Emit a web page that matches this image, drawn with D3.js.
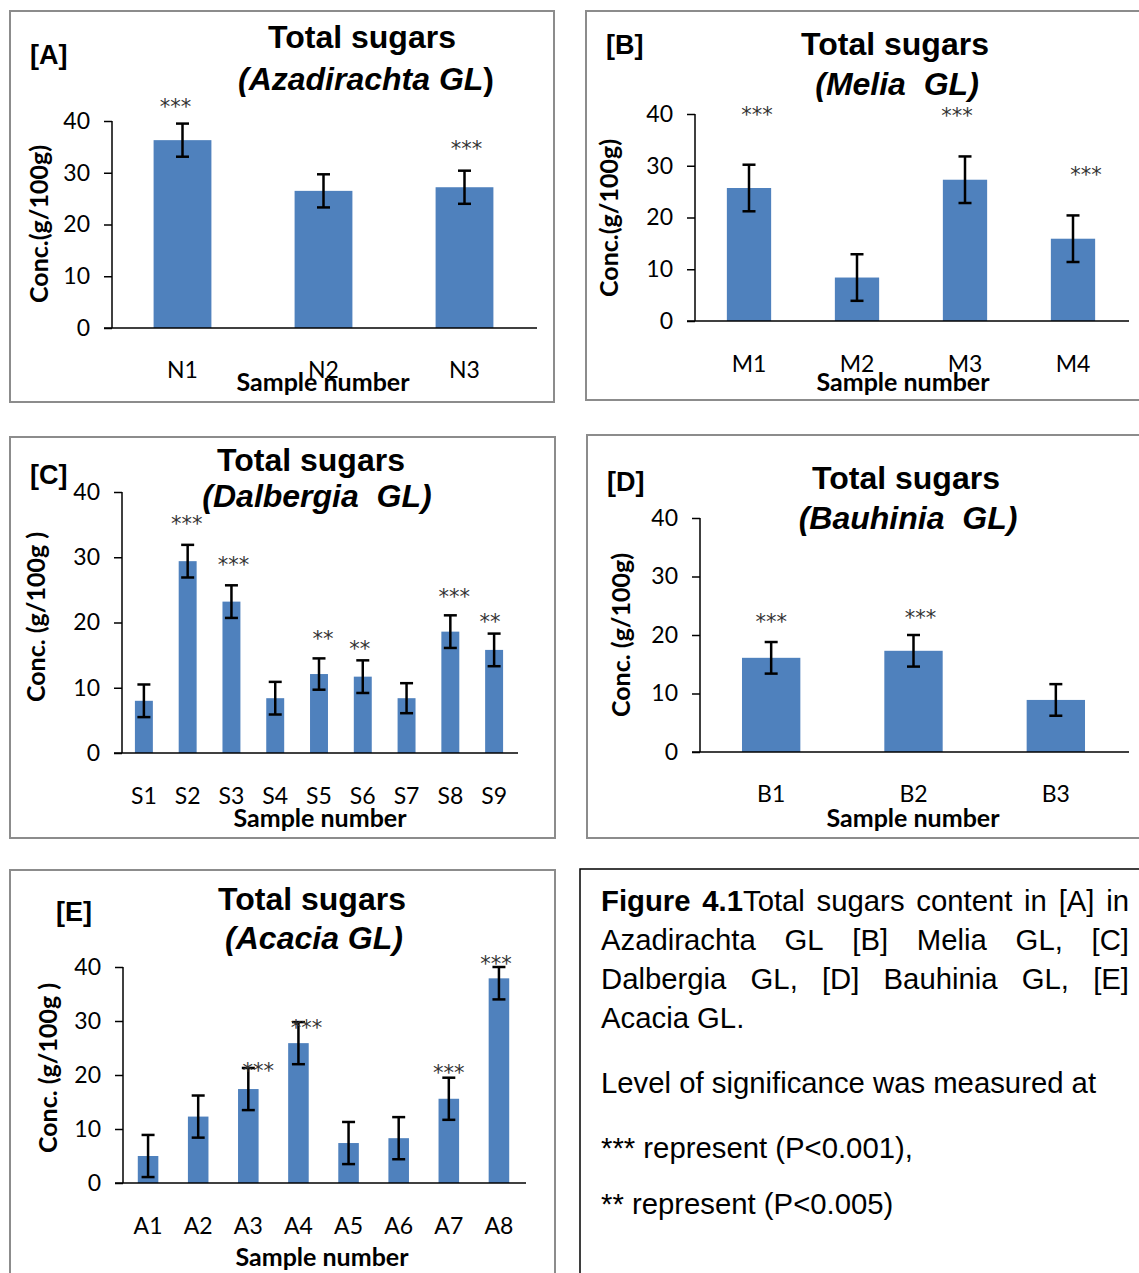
<!DOCTYPE html>
<html>
<head>
<meta charset="utf-8">
<script src="https://cdn.jsdelivr.net/npm/d3@7"></script>
<style>
body { margin: 0; background: #fff; }
svg { display: block; }
text { white-space: pre; }
.tick text { font-family: Lato, "Open Sans", sans-serif; font-size: 23px; fill: #000; }
.axis path, .axis line { stroke: #000; stroke-width: 1.5px; }
.title { font-family: "Liberation Sans", Arial, sans-serif; font-weight: bold; font-size: 32px; }
.tag { font-family: "Liberation Sans", Arial, sans-serif; font-weight: bold; font-size: 27px; }
.alabel { font-family: Lato, sans-serif; font-weight: bold; font-size: 25px; }
.sig { font-family: "DejaVu Sans", sans-serif; font-size: 21px; fill: #333; }
.cap { font-family: "Liberation Sans", Arial, sans-serif; font-size: 29.3px; }
</style>
</head>
<body>
<script>
// Panel A - Azadirachta
const catsA = ['N1', 'N2', 'N3']
const valsA = [36.3, 26.5, 27.2]
const errsA = [3.2, 3.2, 3.2]
const sigA = ['***', '', '***']
const sigAtA = [43.6, null, 35.5]

// Panel B - Melia
const catsB = ['M1', 'M2', 'M3', 'M4']
const valsB = [25.7, 8.4, 27.3, 15.9]
const errsB = [4.5, 4.5, 4.5, 4.5]
const sigB = ['***', '', '***', '***']
const sigAtB = [40.8, null, 40.6, 29.1]

// Panel C - Dalbergia
const catsC = ['S1', 'S2', 'S3', 'S4', 'S5', 'S6', 'S7', 'S8', 'S9']
const valsC = [8.0, 29.4, 23.2, 8.4, 12.1, 11.7, 8.4, 18.6, 15.8]
const errsC = [2.5, 2.5, 2.5, 2.5, 2.4, 2.5, 2.3, 2.5, 2.5]
const sigC = ['', '***', '***', '', '**', '**', '', '***', '**']
const sigAtC = [null, 35.8, 29.6, null, 18.2, 16.7, null, 24.6, 20.9]

// Panel D - Bauhinia
const catsD = ['B1', 'B2', 'B3']
const valsD = [16.1, 17.3, 8.9]
const errsD = [2.7, 2.7, 2.7]
const sigD = ['***', '***', '']
const sigAtD = [23.0, 23.7, null]

// Panel E - Acacia
const catsE = ['A1', 'A2', 'A3', 'A4', 'A5', 'A6', 'A7', 'A8']
const valsE = [5.0, 12.3, 17.4, 25.9, 7.4, 8.3, 15.6, 37.9]
const errsE = [3.9, 3.9, 3.9, 3.9, 3.9, 3.9, 3.9, 3.9]
const sigE = ['', '', '***', '***', '', '', '***', '***']
const sigAtE = [null, null, 21.7, 29.6, null, null, 21.3, 41.5]

const yTicks = [0, 10, 20, 30, 40]

const panels = [
    { cats: catsA, vals: valsA, errs: errsA, sig: sigA, sigAt: sigAtA,
      frame: [10, 11, 544, 391], xr: [112, 535], yr: [328, 121],
      tag: '[A]', tagXY: [30, 64], t1: 'Total sugars', t1XY: [362, 48],
      t2: ['(', 'Azadirachta GL', ')'], t2XY: [366, 90],
      ylab: 'Conc.(g/100g)', ylabXY: [48, 224], xlabXY: [323, 391], catY: 378,
      shift: [-7, 0, 2] },
    { cats: catsB, vals: valsB, errs: errsB, sig: sigB, sigAt: sigAtB,
      frame: [586, 11, 600, 389], xr: [695, 1127], yr: [321, 114],
      tag: '[B]', tagXY: [606, 54], t1: 'Total sugars', t1XY: [895, 55],
      t2: ['(', 'Melia  GL)', ''], t2XY: [897, 95],
      ylab: 'Conc.(g/100g)', ylabXY: [618, 218], xlabXY: [903, 391], catY: 372,
      shift: [8, 0, -8, 13] },
    { cats: catsC, vals: valsC, errs: errsC, sig: sigC, sigAt: sigAtC,
      frame: [10, 437, 545, 401], xr: [122, 516], yr: [753, 492],
      tag: '[C]', tagXY: [30, 484], t1: 'Total sugars', t1XY: [311, 471],
      t2: ['(', 'Dalbergia  GL)', ''], t2XY: [317, 507],
      ylab: 'Conc. (g/100g )', ylabXY: [45, 617], xlabXY: [320, 827], catY: 804,
      shift: [0, -1, 2, 0, 4, -3, 0, 4, -4] },
    { cats: catsD, vals: valsD, errs: errsD, sig: sigD, sigAt: sigAtD,
      frame: [587, 435, 600, 403], xr: [700, 1127], yr: [752, 518],
      tag: '[D]', tagXY: [607, 491], t1: 'Total sugars', t1XY: [906, 489],
      t2: ['(', 'Bauhinia  GL)', ''], t2XY: [908, 529],
      ylab: 'Conc. (g/100g)', ylabXY: [630, 635], xlabXY: [913, 827], catY: 802,
      shift: [0, 7, 0] },
    { cats: catsE, vals: valsE, errs: errsE, sig: sigE, sigAt: sigAtE,
      frame: [10, 870, 545, 440], xr: [123, 524], yr: [1183, 967],
      tag: '[E]', tagXY: [56, 921], t1: 'Total sugars', t1XY: [312, 910],
      t2: ['(', 'Acacia GL)', ''], t2XY: [314, 949],
      ylab: 'Conc. (g/100g )', ylabXY: [57, 1068], xlabXY: [322, 1266], catY: 1234,
      shift: [0, 0, 10, 8, 0, 0, 0, -3] },
]

const svg = d3.select('body').append('svg')
    .attr('width', 1139)
    .attr('height', 1273)

panels.forEach(p => {
    const g = svg.append('g')

    // chart frame
    g.append('rect')
        .attr('x', p.frame[0]).attr('y', p.frame[1])
        .attr('width', p.frame[2]).attr('height', p.frame[3])
        .attr('fill', 'none').attr('stroke', '#8c8c8c').attr('stroke-width', 2)

    const x = d3.scaleBand().domain(p.cats).range(p.xr).paddingInner(0.59).paddingOuter(0.295)
    const y = d3.scaleLinear().domain([0, 40]).range(p.yr)

    // bars
    g.selectAll('.bar').data(p.vals).enter().append('rect')
        .attr('class', 'bar')
        .attr('x', (d, i) => x(p.cats[i]))
        .attr('y', d => y(d))
        .attr('width', x.bandwidth())
        .attr('height', d => y(0) - y(d))
        .attr('fill', '#4f81bd')

    // error bars (clipped at the axis maximum, as in the source)
    const cx = i => x(p.cats[i]) + x.bandwidth() / 2
    const eb = g.append('g').attr('stroke', '#000').attr('stroke-width', 2.5)
    p.vals.forEach((v, i) => {
        const hi = y(Math.min(v + p.errs[i], 40)), lo = y(v - p.errs[i])
        eb.append('line').attr('x1', cx(i)).attr('x2', cx(i)).attr('y1', hi).attr('y2', lo)
        eb.append('line').attr('x1', cx(i) - 6.5).attr('x2', cx(i) + 6.5).attr('y1', hi).attr('y2', hi)
        eb.append('line').attr('x1', cx(i) - 6.5).attr('x2', cx(i) + 6.5).attr('y1', lo).attr('y2', lo)
    })

    // significance stars
    p.sig.forEach((s, i) => {
        if (!s) return
        g.append('text').attr('class', 'sig')
            .attr('text-anchor', 'middle')
            .attr('x', cx(i) + (p.shift[i] || 0))
            .attr('y', y(p.sigAt[i]) + 12)
            .text(s)
    })

    // axes
    g.append('g').attr('class', 'axis')
        .attr('transform', `translate(${p.xr[0]},0)`)
        .call(d3.axisLeft(y).tickValues(yTicks).tickSize(8).tickPadding(14).tickSizeOuter(0))
    g.append('line')
        .attr('x1', p.xr[0] - 8).attr('x2', p.xr[1] + 2)
        .attr('y1', y(0)).attr('y2', y(0))
        .attr('stroke', '#000').attr('stroke-width', 1.5)
    g.selectAll('.axis .domain').attr('d', `M0,${y(0)}V${y(40)}`)

    // category labels
    g.selectAll('.cat').data(p.cats).enter().append('text')
        .attr('class', 'tick')
        .attr('text-anchor', 'middle')
        .attr('x', (d, i) => cx(i))
        .attr('y', p.catY)
        .style('font-family', 'Lato, sans-serif').style('font-size', '23px')
        .text(d => d)

    // titles
    g.append('text').attr('class', 'title').attr('text-anchor', 'middle')
        .attr('x', p.t1XY[0]).attr('y', p.t1XY[1]).text(p.t1)
    const t2 = g.append('text').attr('class', 'title').attr('text-anchor', 'middle')
        .attr('x', p.t2XY[0]).attr('y', p.t2XY[1])
    t2.append('tspan').style('font-style', 'italic').text(p.t2[0] + p.t2[1])
    if (p.t2[2]) t2.append('tspan').text(p.t2[2])

    g.append('text').attr('class', 'tag')
        .attr('x', p.tagXY[0]).attr('y', p.tagXY[1]).text(p.tag)

    g.append('text').attr('class', 'alabel').attr('text-anchor', 'middle')
        .attr('transform', `translate(${p.ylabXY[0]},${p.ylabXY[1]}) rotate(-90)`)
        .text(p.ylab)
    g.append('text').attr('class', 'alabel').attr('text-anchor', 'middle')
        .attr('x', p.xlabXY[0]).attr('y', p.xlabXY[1]).text('Sample number')
})

// caption box
const capLines = [
    { y: 911, justify: true, words: [[['Figure', true]], [['4.1', true], ['Total', false]], [['sugars']], [['content']], [['in']], [['[A]']], [['in']]] },
    { y: 950, justify: true, words: ['Azadirachta', 'GL', '[B]', 'Melia', 'GL,', '[C]'].map(w => [[w]]) },
    { y: 989, justify: true, words: ['Dalbergia', 'GL,', '[D]', 'Bauhinia', 'GL,', '[E]'].map(w => [[w]]) },
    { y: 1028, justify: false, words: [[['Acacia GL.']]] },
    { y: 1093, justify: false, words: [[['Level of significance was measured at']]] },
    { y: 1158, justify: false, words: [[['*** represent (P<0.001),']]] },
    { y: 1214, justify: false, words: [[['** represent (P<0.005)']]] },
]

svg.append('rect')
    .attr('x', 580).attr('y', 869).attr('width', 600).attr('height', 450)
    .attr('fill', 'none').attr('stroke', '#000').attr('stroke-width', 1.5)

const capL = 601, capR = 1129
capLines.forEach(line => {
    const nodes = line.words.map(segs => {
        const t = svg.append('text').attr('class', 'cap').attr('y', line.y)
        segs.forEach(s => t.append('tspan').style('font-weight', s[1] ? 'bold' : 'normal').text(s[0]))
        return t
    })
    const widths = nodes.map(n => n.node().getComputedTextLength())
    const total = d3.sum(widths)
    const gap = line.justify && nodes.length > 1 ? (capR - capL - total) / (nodes.length - 1) : 8
    let cur = capL
    nodes.forEach((n, i) => {
        n.attr('x', cur)
        cur += widths[i] + gap
    })
})
</script>
</body>
</html>
